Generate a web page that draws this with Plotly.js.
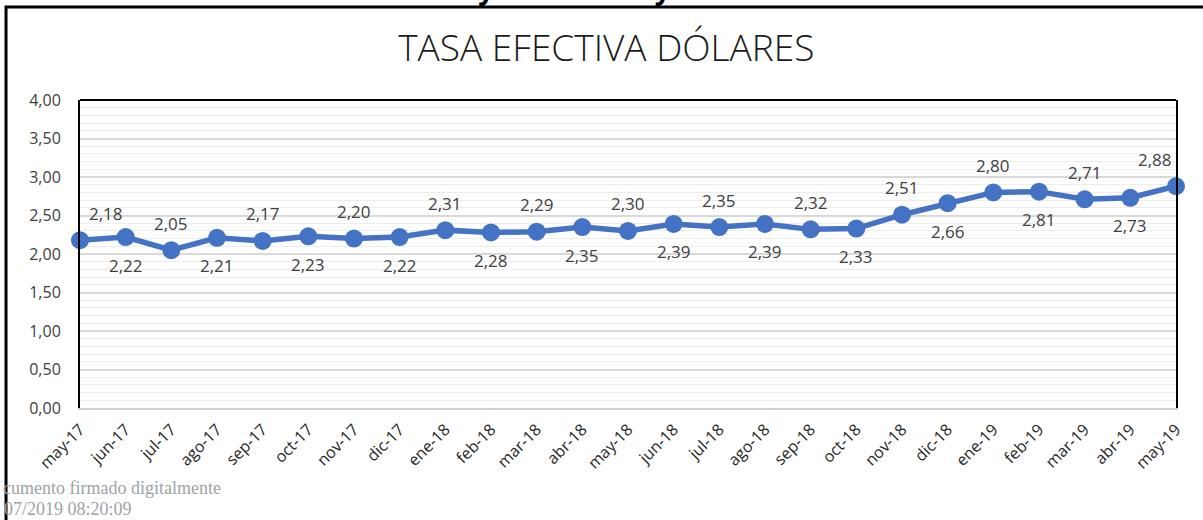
<!DOCTYPE html>
<html>
<head>
<meta charset="utf-8">
<script src="https://cdn.plot.ly/plotly-3.0.1.min.js"></script>
<style>html,body{margin:0;padding:0;background:#fff;}#chart{width:1203px;height:520px;}</style>
</head>
<body>
<div id="chart"></div>
<script>
const months = ["may-17","jun-17","jul-17","ago-17","sep-17","oct-17","nov-17","dic-17","ene-18","feb-18","mar-18","abr-18","may-18","jun-18","jul-18","ago-18","sep-18","oct-18","nov-18","dic-18","ene-19","feb-19","mar-19","abr-19","may-19"];
const rates = [2.18,2.22,2.05,2.21,2.17,2.23,2.20,2.22,2.31,2.28,2.29,2.35,2.30,2.39,2.35,2.39,2.32,2.33,2.51,2.66,2.80,2.81,2.71,2.73,2.88];
const yTicks = [0,0.5,1,1.5,2,2.5,3,3.5,4];
const chartTitle = "TASA EFECTIVA DÓLARES";
const pageHeading = "Mayo 2017 – Mayo 2019.";
const footnote1 = "cumento firmado digitalmente";
const footnote2 = "07/2019 08:20:09";

const fmt = v => v.toFixed(2).replace('.', ',');
const labelAnn = rates.map((v, i) => {
  const above = i % 2 === 0;
  let xanchor = 'center', xshift = 0;
  if (i === 0) { xanchor = 'left'; xshift = 7; }
  if (i === rates.length - 1) { xanchor = 'right'; xshift = -2; }
  return {
    x: i, y: v, xref: 'x', yref: 'y', text: fmt(v), showarrow: false,
    xanchor: xanchor, yanchor: 'middle', xshift: xshift, yshift: above ? 27 : -28,
    font: {family: 'Open Sans, sans-serif', size: 17, color: '#404040'}
  };
});

const trace = {
  x: months.map((m, i) => i), y: rates, type: 'scatter', mode: 'lines+markers',
  line: {color: '#4472C4', width: 5.5},
  marker: {color: '#4472C4', size: 18},
  cliponaxis: false, hoverinfo: 'skip'
};

const layout = {
  width: 1203, height: 520,
  margin: {l: 80, r: 27, t: 100, b: 112},
  paper_bgcolor: '#ffffff', plot_bgcolor: '#ffffff',
  separators: ',.',
  showlegend: false,
  title: {text: chartTitle, x: 0.504, xanchor: 'center', y: 0.907, yanchor: 'middle',
    font: {family: 'Open Sans, sans-serif', size: 37, weight: 300, color: '#1a1a1a'}},
  xaxis: {
    range: [0, months.length - 1], tickmode: 'array',
    tickvals: months.map((m, i) => i), ticktext: months,
    tickangle: -45, ticks: '', showgrid: false, zeroline: false,
    showline: true, linecolor: '#d0d0d0', linewidth: 2,
    ticklabelstandoff: 4,
    tickfont: {family: 'Open Sans, sans-serif', size: 16, color: '#262626'}
  },
  yaxis: {
    range: [0, 4], tickmode: 'array', tickvals: yTicks, tickformat: '.2f',
    ticks: '', showline: true, linecolor: '#000000', linewidth: 2, mirror: true,
    showgrid: true, gridcolor: '#d9d9d9', gridwidth: 2, zeroline: false,
    minor: {dtick: 0.1, showgrid: true, gridcolor: '#ededed', gridwidth: 1},
    tickfont: {family: 'Open Sans, sans-serif', size: 16, color: '#404040'},
    ticklabelstandoff: 14
  },
  shapes: [
    {type: 'line', xref: 'paper', yref: 'paper', x0: 0, x1: 1, y0: 1, y1: 1,
      line: {color: '#000000', width: 2}},
    {type: 'rect', xref: 'paper', yref: 'paper', x0: -0.0675, x1: 1.1, y0: -0.5, y1: 1.302,
      line: {color: '#000000', width: 3}, fillcolor: 'rgba(0,0,0,0)'}
  ],
  annotations: labelAnn.concat([
    {xref: 'paper', yref: 'paper', x: 0.475, y: 1.296, xanchor: 'center', yanchor: 'bottom',
      text: '<b>' + pageHeading + '</b>', showarrow: false,
      font: {family: 'Open Sans, sans-serif', size: 28, color: '#000000'}},
    {xref: 'paper', yref: 'paper', x: -0.072, y: -0.26, xanchor: 'left', yanchor: 'middle',
      text: footnote1, showarrow: false,
      font: {family: 'Liberation Serif, serif', size: 18, color: '#9ea3a8'}},
    {xref: 'paper', yref: 'paper', x: -0.0715, y: -0.328, xanchor: 'left', yanchor: 'middle',
      text: footnote2, showarrow: false,
      font: {family: 'Liberation Serif, serif', size: 18, color: '#9ea3a8'}}
  ])
};

Plotly.newPlot('chart', [trace], layout, {displayModeBar: false, staticPlot: true});
</script>
</body>
</html>
